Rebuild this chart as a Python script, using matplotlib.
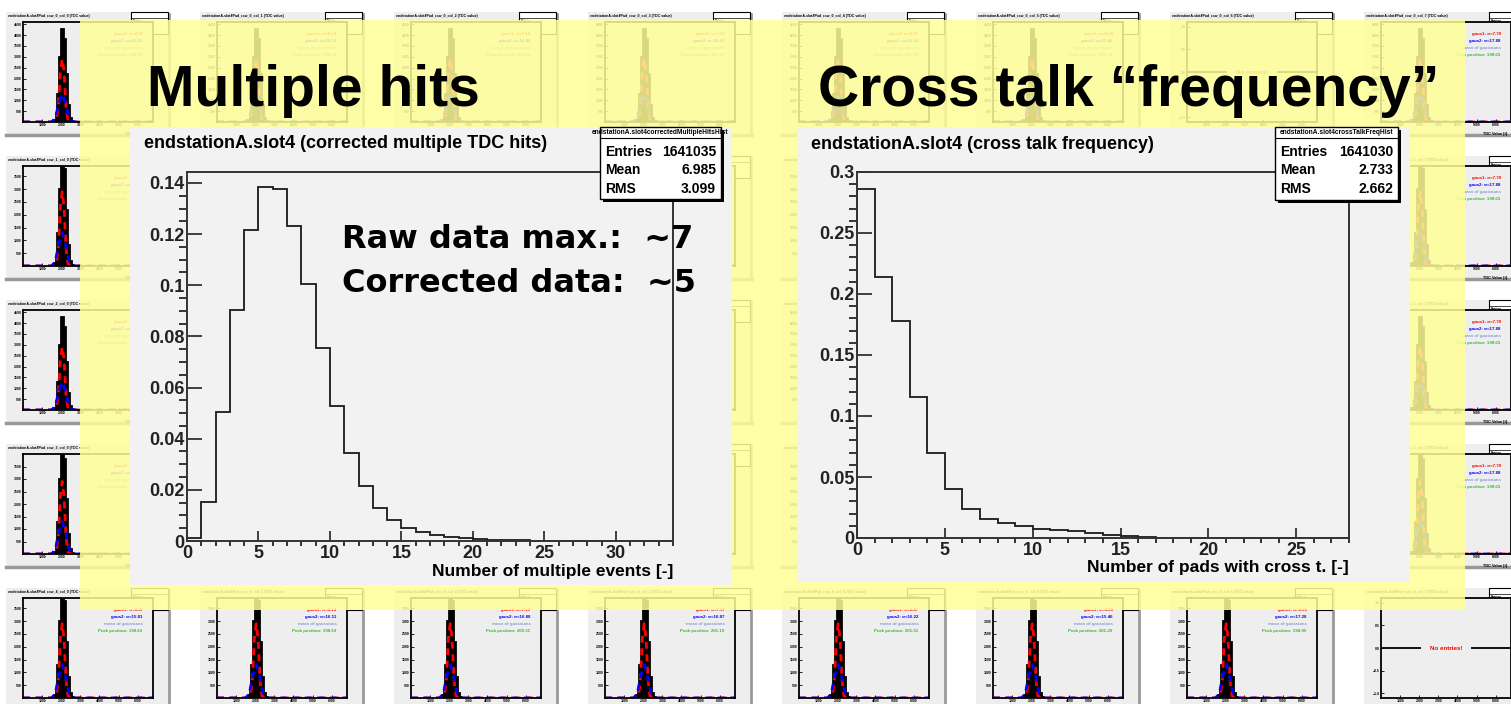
import matplotlib.pyplot as plt
from matplotlib.patches import Rectangle
from matplotlib.lines import Line2D
from matplotlib.ticker import MultipleLocator, FuncFormatter
import numpy as np

# main histograms (fraction of events per bin, bin width 1)
mult_counts = [0.0012, 0.0154, 0.0504, 0.0903, 0.1216, 0.1383, 0.1375, 0.1231,
               0.1004, 0.0756, 0.0526, 0.0343, 0.0215, 0.0131, 0.0081, 0.0052,
               0.0034, 0.0024, 0.0016, 0.0010, 0.0007, 0.0004, 0.0003, 0.0002,
               0.0001, 0.00005, 0, 0, 0, 0, 0, 0, 0, 0]
xtalk_counts = [0.2858, 0.2139, 0.1776, 0.1156, 0.0699, 0.0404, 0.0238, 0.0156,
                0.0123, 0.0096, 0.0077, 0.0066, 0.0055, 0.0041, 0.0027, 0.0016,
                0.0006, 0.0002, 0.0001, 0, 0, 0, 0, 0, 0, 0, 0, 0]
mult_stats = [("Entries", "1641035"), ("Mean", "6.985"), ("RMS", "3.099")]
xtalk_stats = [("Entries", "1641030"), ("Mean", "2.733"), ("RMS", "2.662")]

# background thumbnails (TDC spectra of single pads)
thumb_edges = [1500, 1600, 1700, 1800, 1900, 2000, 2100, 2200, 2300, 2400, 2500, 2600]
thumb_counts = [30, 100, 400, 1300, 3000, 4300, 3800, 2200, 800, 200, 50]
red_x = [0, 1600, 1750, 1850, 1950, 2050, 2150, 2250, 2350, 2500, 6800]
red_y = [0, 0, 80, 700, 2300, 2900, 2300, 700, 80, 0, 0]
blue_x = [0, 1500, 1700, 1850, 2050, 2250, 2400, 2600, 6800]
blue_y = [0, 0, 200, 800, 1300, 800, 200, 0, 0]
thumb_sigma1 = ["8.37", "8.14", "7.19", "7.07", "8.47", "8.28", "8.26", "7.78"]
thumb_sigma2 = ["15.81", "16.11", "16.88", "16.87", "16.22", "15.46", "17.28", "17.88"]
thumb_peak = ["198.63", "198.63", "200.31", "201.19", "201.51", "201.20", "194.95", "198.63"]
thumb_ymax = [4600, 3900, 4600, 4000, 3900]
empty_thumbs = [(0, 6), (4, 7)]

W, H = 1511, 704
PAD = '#f2f2f2'
plt.rcParams['font.family'] = ['Liberation Sans', 'DejaVu Sans']
plt.rcParams['font.weight'] = 'bold'

fig = plt.figure(figsize=(W / 100, H / 100), dpi=100)
fig.patch.set_facecolor('white')


def box(x, y, w, h):
    return [x / W, 1 - (y + h) / H, w / W, h / H]


def px(x, y):
    return (x / W, 1 - y / H)


def rect(x, y, w, h, z, **kw):
    r = Rectangle(px(x, y + h), w / W, h / H, transform=fig.transFigure, zorder=z, **kw)
    fig.add_artist(r)


def hline(x1, x2, y, z, **kw):
    fig.add_artist(Line2D([x1 / W, x2 / W], [1 - y / H] * 2, transform=fig.transFigure, zorder=z, **kw))


def vline(x, y1, y2, z, **kw):
    fig.add_artist(Line2D([x / W] * 2, [1 - y1 / H, 1 - y2 / H], transform=fig.transFigure, zorder=z, **kw))


# ---- thumbnails in the background ----
for r in range(5):
    for c in range(8):
        x0 = 6 + 194 * c
        y0 = 12 + 144 * r
        rect(x0, y0, 162, 122, -1, fc='#eeeeee', ec='none')
        hline(x0, x0 + 164, y0 + 123, -1, color='#999999', lw=2.5)
        vline(x0 + 163, y0 + 2, y0 + 123, -1, color='#999999', lw=2)
        fig.text(*px(x0 + 2, y0 + 4), 'endstationA.slot4Pad_row_%d_col_%d (TDC value)' % (r, c),
                 fontsize=2.6, va='center', zorder=-0.5)
        ax = fig.add_axes(box(x0 + 17, y0 + 10, 130, 100))
        ax.set_facecolor('#eeeeee')
        for s in ax.spines.values():
            s.set_linewidth(1.3)
        ax.set_xlim(0, 6800)
        ax.tick_params(labelsize=2.5, length=2, width=0.6, pad=1, direction='in')
        ax.set_xticks([1000, 2000, 3000, 4000, 5000, 6000])
        ax.text(0.97, -0.1, 'TDC Value [t]', transform=ax.transAxes, ha='right', va='top', fontsize=2.8)
        if (r, c) in empty_thumbs:
            ax.set_ylim(-1.1, 1.1)
            ax.set_yticks([-1, -0.5, 0, 0.5, 1])
            ax.axhline(0, color='black', lw=1.3)
            ax.text(0.5, 0.5, 'No entries!', color='red', fontsize=4.5, ha='center', va='center',
                    transform=ax.transAxes, bbox=dict(fc='#eeeeee', ec='none', pad=6))
        else:
            ax.set_ylim(0, thumb_ymax[r])
            ax.set_yticks(range(500, thumb_ymax[r], 500))
            ax.stairs(thumb_counts, thumb_edges, fill=True, fc='black', ec='black', lw=2)
            ax.plot(red_x, red_y, color='red', ls=(0, (2.5, 2)), lw=2)
            ax.plot(blue_x, blue_y, color='blue', ls=(0, (2.5, 2)), lw=2)
            lines = [('gaus1: \u03c3=' + thumb_sigma1[c], 'red'),
                     ('gaus2: \u03c3=' + thumb_sigma2[c], 'blue'),
                     ('mean of gaussians', '#8899dd'),
                     ('Peak position: ' + thumb_peak[c], '#33bb33')]
            for i, (t, col) in enumerate(lines):
                ax.text(0.92, 0.88 - i * 0.07, t, color=col, fontsize=3.2, ha='right', va='center',
                        transform=ax.transAxes)
        # small stat box
        rect(x0 + 125, y0, 37, 22, -0.4, fc='white', ec='black', lw=0.8)
        hline(x0 + 125, x0 + 162, y0 + 6, -0.3, color='black', lw=0.5)
        for i, t in enumerate(['Entries', 'Mean', 'RMS']):
            fig.text(*px(x0 + 127, y0 + 9 + i * 5), t, fontsize=2.3, va='center', zorder=-0.3)

# ---- yellow overlay ----
rect(80, 20, 1385, 590, 1, fc='#ffff99', ec='none', alpha=0.85)

# ---- main panels ----
rect(130, 127, 602, 458, 2, fc=PAD, ec='none')
rect(797, 127, 613, 455, 2, fc=PAD, ec='none')


def root_axes(frame, xmax, ymax, ymaj, ymin, counts):
    ax = fig.add_axes(box(*frame))
    ax.set_zorder(3)
    ax.set_facecolor(PAD)
    ax.set_xlim(0, xmax)
    ax.set_ylim(0, ymax)
    edges = np.arange(len(counts) + 1)
    ax.stairs(counts, edges, color='#1a1a1a', lw=1.3)
    for s in ax.spines.values():
        s.set_color('#333333')
        s.set_linewidth(1.4)
    ax.xaxis.set_major_locator(MultipleLocator(5))
    ax.xaxis.set_minor_locator(MultipleLocator(1))
    ax.yaxis.set_major_locator(MultipleLocator(ymaj))
    ax.yaxis.set_minor_locator(MultipleLocator(ymin))
    fmt = FuncFormatter(lambda v, p: '%g' % round(v, 4))
    ax.xaxis.set_major_formatter(fmt)
    ax.yaxis.set_major_formatter(fmt)
    ax.tick_params(direction='in', colors='#222222', labelsize=13, width=1.2)
    ax.tick_params(axis='y', which='major', length=11, pad=2)
    ax.tick_params(axis='y', which='minor', length=6, width=1.1)
    ax.tick_params(axis='x', which='major', length=7.5, pad=3)
    ax.tick_params(axis='x', which='minor', length=3.5, width=1.1)
    return ax


axL = root_axes((187, 172, 486, 369), 34, 0.1443, 0.02, 0.005, mult_counts)
axR = root_axes((857, 172, 492, 366), 28, 0.3, 0.05, 0.01, xtalk_counts)

fig.text(*px(144, 148), 'endstationA.slot4 (corrected multiple TDC hits)', fontsize=13, zorder=5)
fig.text(*px(811, 149), 'endstationA.slot4 (cross talk frequency)', fontsize=13, zorder=5)
fig.text(*px(673, 576), 'Number of multiple events [-]', fontsize=12.5, ha='right', zorder=5)
fig.text(*px(1349, 572), 'Number of pads with cross t. [-]', fontsize=12.5, ha='right', zorder=5)


def stat_box(x0, y0, w, h, name, rows):
    rect(x0 + 3, y0 + 3, w, h, 6, fc='black', ec='none')
    rect(x0, y0, w, h, 6.1, fc='white', ec='black', lw=1)
    hline(x0, x0 + w, y0 + 11, 6.2, color='black', lw=0.8)
    fig.text(*px(x0 + w / 2, y0 + 6), name, fontsize=4.8, ha='center', va='center', zorder=6.3)
    for i, (k, v) in enumerate(rows):
        y = y0 + 25 + i * 18.5
        fig.text(*px(x0 + 5, y), k, fontsize=10, va='center', zorder=6.3)
        fig.text(*px(x0 + w - 5, y), v, fontsize=10, ha='right', va='center', zorder=6.3)


stat_box(600, 127, 121, 72, 'endstationA.slot4correctedMultipleHitsHist', mult_stats)
stat_box(1275, 127, 123, 73, 'endstationA.slot4crossTalkFreqHist', xtalk_stats)

# ---- slide text ----
fig.text(*px(147, 106), 'Multiple hits', fontsize=41, zorder=7)
fig.text(*px(818, 106), 'Cross talk \u201cfrequency\u201d', fontsize=41, zorder=7)
fig.text(*px(342, 248), 'Raw data max.:  ~7', fontsize=23, family='DejaVu Sans', zorder=7)
fig.text(*px(342, 292), 'Corrected data:  ~5', fontsize=23, family='DejaVu Sans', zorder=7)

fig.savefig('out.png', dpi=100, facecolor='white')
